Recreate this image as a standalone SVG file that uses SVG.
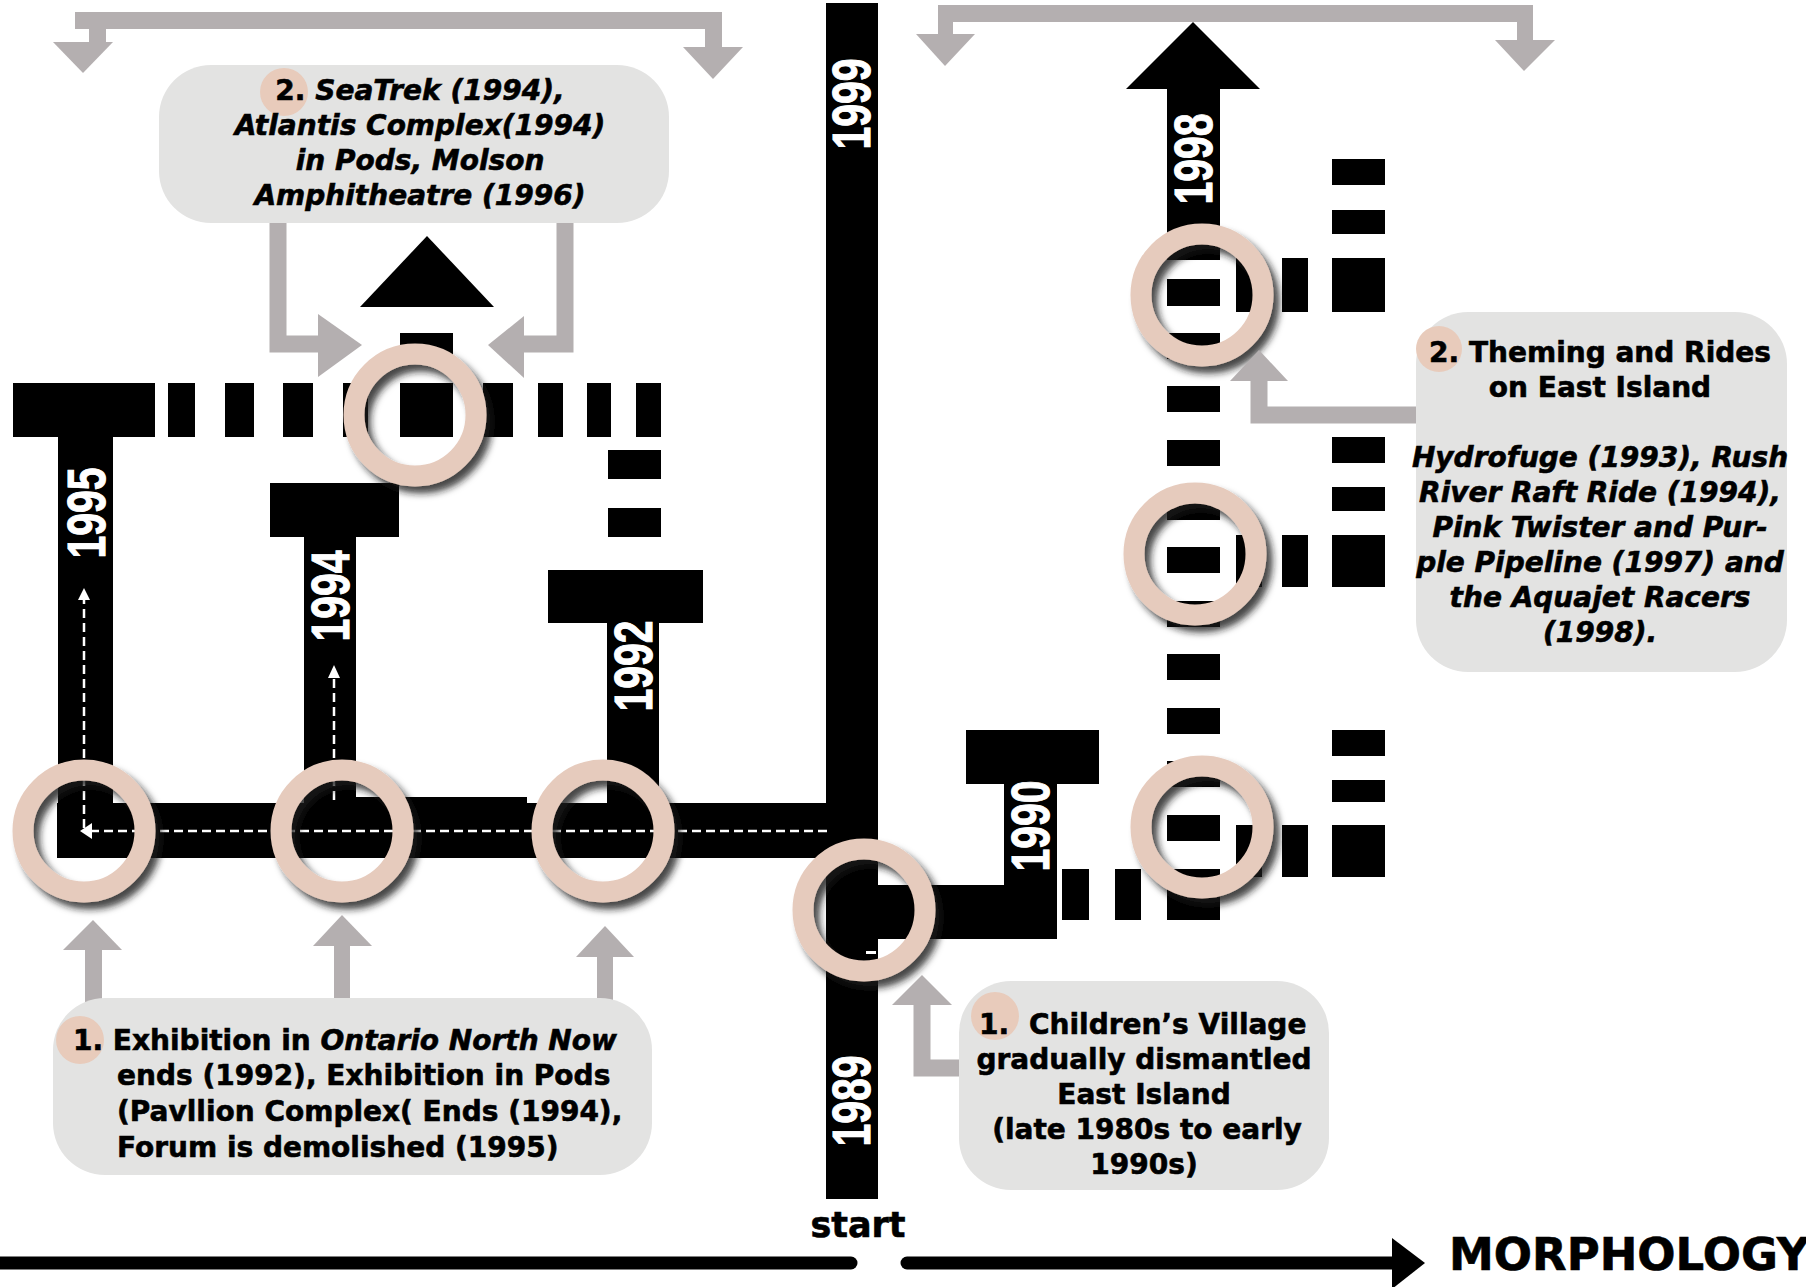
<svg xmlns="http://www.w3.org/2000/svg" width="1806" height="1287" viewBox="0 0 1806 1287">
  <defs>
    <filter id="ringShadow" x="-30%" y="-30%" width="170%" height="170%">
      <feDropShadow dx="6" dy="7" stdDeviation="3.5" flood-color="#1a1a1a" flood-opacity="0.8"/>
    </filter>
    <style>
      .blk { fill: #000; }
      .gry { fill: #b4afb0; }
      .gline { fill: none; stroke: #b4afb0; stroke-width: 17; }
      .wdash { fill: none; stroke: #fff; stroke-width: 2.5; stroke-dasharray: 9 5; }
      .wfill { fill: #fff; }
      .ring { fill: none; stroke: #e6cbbd; stroke-width: 21; filter: url(#ringShadow); }
      .box { fill: #e3e3e2; }
      .num { fill: #e8cbbb; }
      .txt { font-family: "DejaVu Sans", "Liberation Sans", sans-serif; font-weight: bold; font-size: 28px; fill: #000; stroke: #000; stroke-width: 0.6; }
      .it { font-style: italic; }
      .up { font-style: normal; }
      .year { font-family: "Liberation Sans", Arial, sans-serif; font-weight: bold; font-size: 41px; fill: #fff; stroke: #fff; stroke-width: 0.8; text-anchor: middle; }
      .big { font-family: "DejaVu Sans", "Liberation Sans", sans-serif; font-weight: bold; fill: #000; }
    </style>
  </defs>

  <rect x="0" y="0" width="1806" height="1287" fill="#fff"/>

  <!-- timeline: western branch (left of the main spine) -->
  <g id="timeline-west">
    <rect class="blk" x="57" y="803" width="821" height="55"/>
    <rect class="blk" x="304" y="797" width="223" height="10"/>
    <!-- 1995 -->
    <rect class="blk" x="13" y="383" width="142" height="54"/>
    <rect class="blk" x="58" y="437" width="55" height="370"/>
    <!-- 1994 -->
    <rect class="blk" x="270" y="483" width="129" height="54"/>
    <rect class="blk" x="304" y="537" width="52" height="270"/>
    <!-- 1992 -->
    <rect class="blk" x="548" y="570" width="155" height="53"/>
    <rect class="blk" x="607" y="623" width="52" height="185"/>
    <!-- dashed row -->
    <rect class="blk" x="168" y="383" width="27" height="54"/>
    <rect class="blk" x="225" y="383" width="29" height="54"/>
    <rect class="blk" x="283" y="383" width="30" height="54"/>
    <rect class="blk" x="343" y="383" width="25" height="54"/>
    <rect class="blk" x="400" y="383" width="53" height="54"/>
    <rect class="blk" x="483" y="383" width="30" height="54"/>
    <rect class="blk" x="538" y="383" width="25" height="54"/>
    <rect class="blk" x="587" y="383" width="24" height="54"/>
    <rect class="blk" x="636" y="383" width="25" height="54"/>
    <rect class="blk" x="608" y="450" width="53" height="29"/>
    <rect class="blk" x="608" y="508" width="53" height="29"/>
    <rect class="blk" x="400" y="333" width="53" height="24"/>
    <polygon class="blk" points="360,307 427,236 494,307"/>
  </g>

  <!-- timeline: main spine 1989 - 1999 -->
  <g id="timeline-spine">
    <rect class="blk" x="826" y="3" width="52" height="1196"/>
  </g>

  <!-- timeline: eastern branch -->
  <g id="timeline-east">
    <!-- 1990 -->
    <rect class="blk" x="966" y="730" width="133" height="54"/>
    <rect class="blk" x="1004" y="784" width="53" height="155"/>
    <rect class="blk" x="870" y="885" width="187" height="54"/>
    <rect class="blk" x="1062" y="869" width="27" height="51"/>
    <rect class="blk" x="1115" y="869" width="26" height="51"/>
    <!-- 1998 arrow -->
    <polygon class="blk" points="1126,89 1193,22 1260,89"/>
    <rect class="blk" x="1167" y="88" width="53" height="172"/>
    <!-- dashed column -->
    <rect class="blk" x="1167" y="279" width="53" height="27"/>
    <rect class="blk" x="1167" y="333" width="53" height="26"/>
    <rect class="blk" x="1167" y="386" width="53" height="26"/>
    <rect class="blk" x="1167" y="440" width="53" height="26"/>
    <rect class="blk" x="1167" y="494" width="53" height="26"/>
    <rect class="blk" x="1167" y="547" width="53" height="26"/>
    <rect class="blk" x="1167" y="601" width="53" height="26"/>
    <rect class="blk" x="1167" y="654" width="53" height="26"/>
    <rect class="blk" x="1167" y="708" width="53" height="26"/>
    <rect class="blk" x="1167" y="761" width="53" height="26"/>
    <rect class="blk" x="1167" y="815" width="53" height="26"/>
    <rect class="blk" x="1167" y="869" width="53" height="51"/>
    <!-- side combs -->
    <rect class="blk" x="1236" y="258" width="26" height="54"/>
    <rect class="blk" x="1282" y="258" width="26" height="54"/>
    <rect class="blk" x="1332" y="258" width="53" height="54"/>
    <rect class="blk" x="1236" y="535" width="26" height="52"/>
    <rect class="blk" x="1282" y="535" width="26" height="52"/>
    <rect class="blk" x="1332" y="535" width="53" height="52"/>
    <rect class="blk" x="1236" y="825" width="26" height="52"/>
    <rect class="blk" x="1282" y="825" width="26" height="52"/>
    <rect class="blk" x="1332" y="825" width="53" height="52"/>
    <rect class="blk" x="1332" y="159" width="53" height="26"/>
    <rect class="blk" x="1332" y="210" width="53" height="24"/>
    <rect class="blk" x="1332" y="437" width="53" height="26"/>
    <rect class="blk" x="1332" y="487" width="53" height="24"/>
    <rect class="blk" x="1332" y="730" width="53" height="26"/>
    <rect class="blk" x="1332" y="780" width="53" height="22"/>
  </g>

  <!-- year labels -->
  <g id="year-labels">
    <text class="year" transform="translate(851,104) rotate(-90) scale(1,1.3)" y="14.7">1999</text>
    <text class="year" transform="translate(851,1101) rotate(-90) scale(1,1.3)" y="14.7">1989</text>
    <text class="year" transform="translate(86,513) rotate(-90) scale(1,1.3)" y="14.7">1995</text>
    <text class="year" transform="translate(330,596) rotate(-90) scale(1,1.3)" y="14.7">1994</text>
    <text class="year" transform="translate(633,666) rotate(-90) scale(1,1.3)" y="14.7">1992</text>
    <text class="year" transform="translate(1030,826) rotate(-90) scale(1,1.3)" y="14.7">1990</text>
    <text class="year" transform="translate(1193,159) rotate(-90) scale(1,1.3)" y="14.7">1998</text>
  </g>

  <!-- white dashed route arrows -->
  <g id="route-arrows">
    <path class="wdash" d="M827 831 H92"/>
    <polygon class="wfill" points="80,831 92,823 92,839"/>
    <path class="wdash" d="M84 828 V600"/>
    <polygon class="wfill" points="84,588 78,600 90,600"/>
    <path class="wdash" d="M334 800 V678"/>
    <polygon class="wfill" points="334,665 328,678 340,678"/>
    <rect class="wfill" x="866" y="951" width="10" height="3"/>
  </g>

  <!-- highlight rings -->
  <g id="node-ring-top-west"><circle class="ring" cx="415" cy="415" r="61"/></g>
  <g id="node-ring-1995"><circle class="ring" cx="84" cy="831" r="61"/></g>
  <g id="node-ring-1994"><circle class="ring" cx="342" cy="831" r="61"/></g>
  <g id="node-ring-1992"><circle class="ring" cx="603" cy="831" r="61"/></g>
  <g id="node-ring-start"><circle class="ring" cx="864" cy="910" r="61"/></g>
  <g id="node-ring-east-1"><circle class="ring" cx="1202" cy="295" r="61"/></g>
  <g id="node-ring-east-2"><circle class="ring" cx="1195" cy="554" r="61"/></g>
  <g id="node-ring-east-3"><circle class="ring" cx="1202" cy="827" r="61"/></g>

  <!-- grey connectors -->
  <g id="connectors">
    <!-- top west bracket -->
    <rect class="gry" x="75" y="12" width="647" height="17"/>
    <rect class="gry" x="89" y="12" width="17" height="33"/>
    <polygon class="gry" points="53,42 113,42 83,73"/>
    <rect class="gry" x="705" y="12" width="17" height="37"/>
    <polygon class="gry" points="683,47 743,47 713,79"/>
    <!-- top east bracket -->
    <rect class="gry" x="938" y="5" width="595" height="17"/>
    <rect class="gry" x="938" y="5" width="15" height="31"/>
    <polygon class="gry" points="916,34 975,34 945,66"/>
    <rect class="gry" x="1517" y="5" width="16" height="37"/>
    <polygon class="gry" points="1495,40 1555,40 1524,71"/>
    <!-- box 2 to top ring -->
    <path class="gline" d="M278 210 V344 H322" stroke-width="16"/>
    <polygon class="gry" points="318,314 362,345 318,377"/>
    <path class="gline" d="M565 210 V344 H520" stroke-width="16"/>
    <polygon class="gry" points="524,316 488,345 524,378"/>
    <!-- box 1 to bottom rings -->
    <rect class="gry" x="85" y="948" width="17" height="72"/>
    <polygon class="gry" points="63,950 122,950 93,920"/>
    <rect class="gry" x="334" y="944" width="16" height="70"/>
    <polygon class="gry" points="313,946 372,946 342,915"/>
    <rect class="gry" x="597" y="955" width="16" height="70"/>
    <polygon class="gry" points="576,957 634,957 605,926"/>
    <!-- box 4 to start ring -->
    <path class="gline" d="M922 1003 V1068 H975"/>
    <polygon class="gry" points="892,1005 952,1005 922,975"/>
    <!-- box 3 to east ring -->
    <path class="gline" d="M1430 415 H1259 V379"/>
    <polygon class="gry" points="1230,381 1288,381 1259,350"/>
  </g>

  <!-- annotation boxes -->
  <g id="node-box-seatrek">
    <rect class="box" x="159" y="65" width="510" height="158" rx="52"/>
    <circle class="num" cx="284" cy="92" r="24"/>
    <text class="txt" x="420" y="100" text-anchor="middle"><tspan class="up">2.</tspan><tspan class="it"> SeaTrek (1994),</tspan></text>
    <text class="txt it" x="420" y="135" text-anchor="middle">Atlantis Complex(1994)</text>
    <text class="txt it" x="420" y="170" text-anchor="middle">in Pods, Molson</text>
    <text class="txt it" x="420" y="205" text-anchor="middle">Amphitheatre (1996)</text>
  </g>

  <g id="node-box-exhibition">
    <rect class="box" x="53" y="998" width="599" height="177" rx="52"/>
    <circle class="num" cx="80" cy="1040" r="24"/>
    <text class="txt" x="73" y="1050"><tspan>1. Exhibition in </tspan><tspan class="it">Ontario North Now</tspan></text>
    <text class="txt" x="117" y="1085">ends (1992), Exhibition in Pods</text>
    <text class="txt" x="117" y="1121">(Pavllion Complex( Ends (1994),</text>
    <text class="txt" x="117" y="1157">Forum is demolished (1995)</text>
  </g>

  <g id="node-box-theming">
    <rect class="box" x="1416" y="312" width="371" height="360" rx="52"/>
    <circle class="num" cx="1439" cy="349" r="23"/>
    <text class="txt" x="1600" y="362" text-anchor="middle">2. Theming and Rides</text>
    <text class="txt" x="1600" y="397" text-anchor="middle">on East Island</text>
    <text class="txt it" x="1600" y="467" text-anchor="middle">Hydrofuge (1993), Rush</text>
    <text class="txt it" x="1600" y="502" text-anchor="middle">River Raft Ride (1994),</text>
    <text class="txt it" x="1600" y="537" text-anchor="middle">Pink Twister and Pur-</text>
    <text class="txt it" x="1600" y="572" text-anchor="middle">ple Pipeline (1997) and</text>
    <text class="txt it" x="1600" y="607" text-anchor="middle">the Aquajet Racers</text>
    <text class="txt it" x="1600" y="642" text-anchor="middle">(1998).</text>
  </g>

  <g id="node-box-childrens-village">
    <rect class="box" x="959" y="981" width="370" height="209" rx="52"/>
    <circle class="num" cx="995" cy="1016" r="24"/>
    <text class="txt" x="979" y="1034">1.<tspan x="1029">Children’s Village</tspan></text>
    <text class="txt" x="1144" y="1069" text-anchor="middle">gradually dismantled</text>
    <text class="txt" x="1144" y="1104" text-anchor="middle">East Island</text>
    <text class="txt" x="1147" y="1139" text-anchor="middle">(late 1980s to early</text>
    <text class="txt" x="1144" y="1174" text-anchor="middle">1990s)</text>
  </g>

  <!-- morphology axis -->
  <g id="axis">
    <line x1="-10" y1="1263" x2="851" y2="1263" stroke="#000" stroke-width="13" stroke-linecap="round"/>
    <line x1="907" y1="1263" x2="1396" y2="1263" stroke="#000" stroke-width="13" stroke-linecap="round"/>
    <polygon class="blk" points="1392,1238 1425,1263 1392,1289"/>
    <text class="big" x="858" y="1237" font-size="35" text-anchor="middle" stroke="#000" stroke-width="0.6">start</text>
    <text class="big" x="1449" y="1270" font-size="45" stroke="#000" stroke-width="0.6">MORPHOLOGY</text>
  </g>
</svg>
